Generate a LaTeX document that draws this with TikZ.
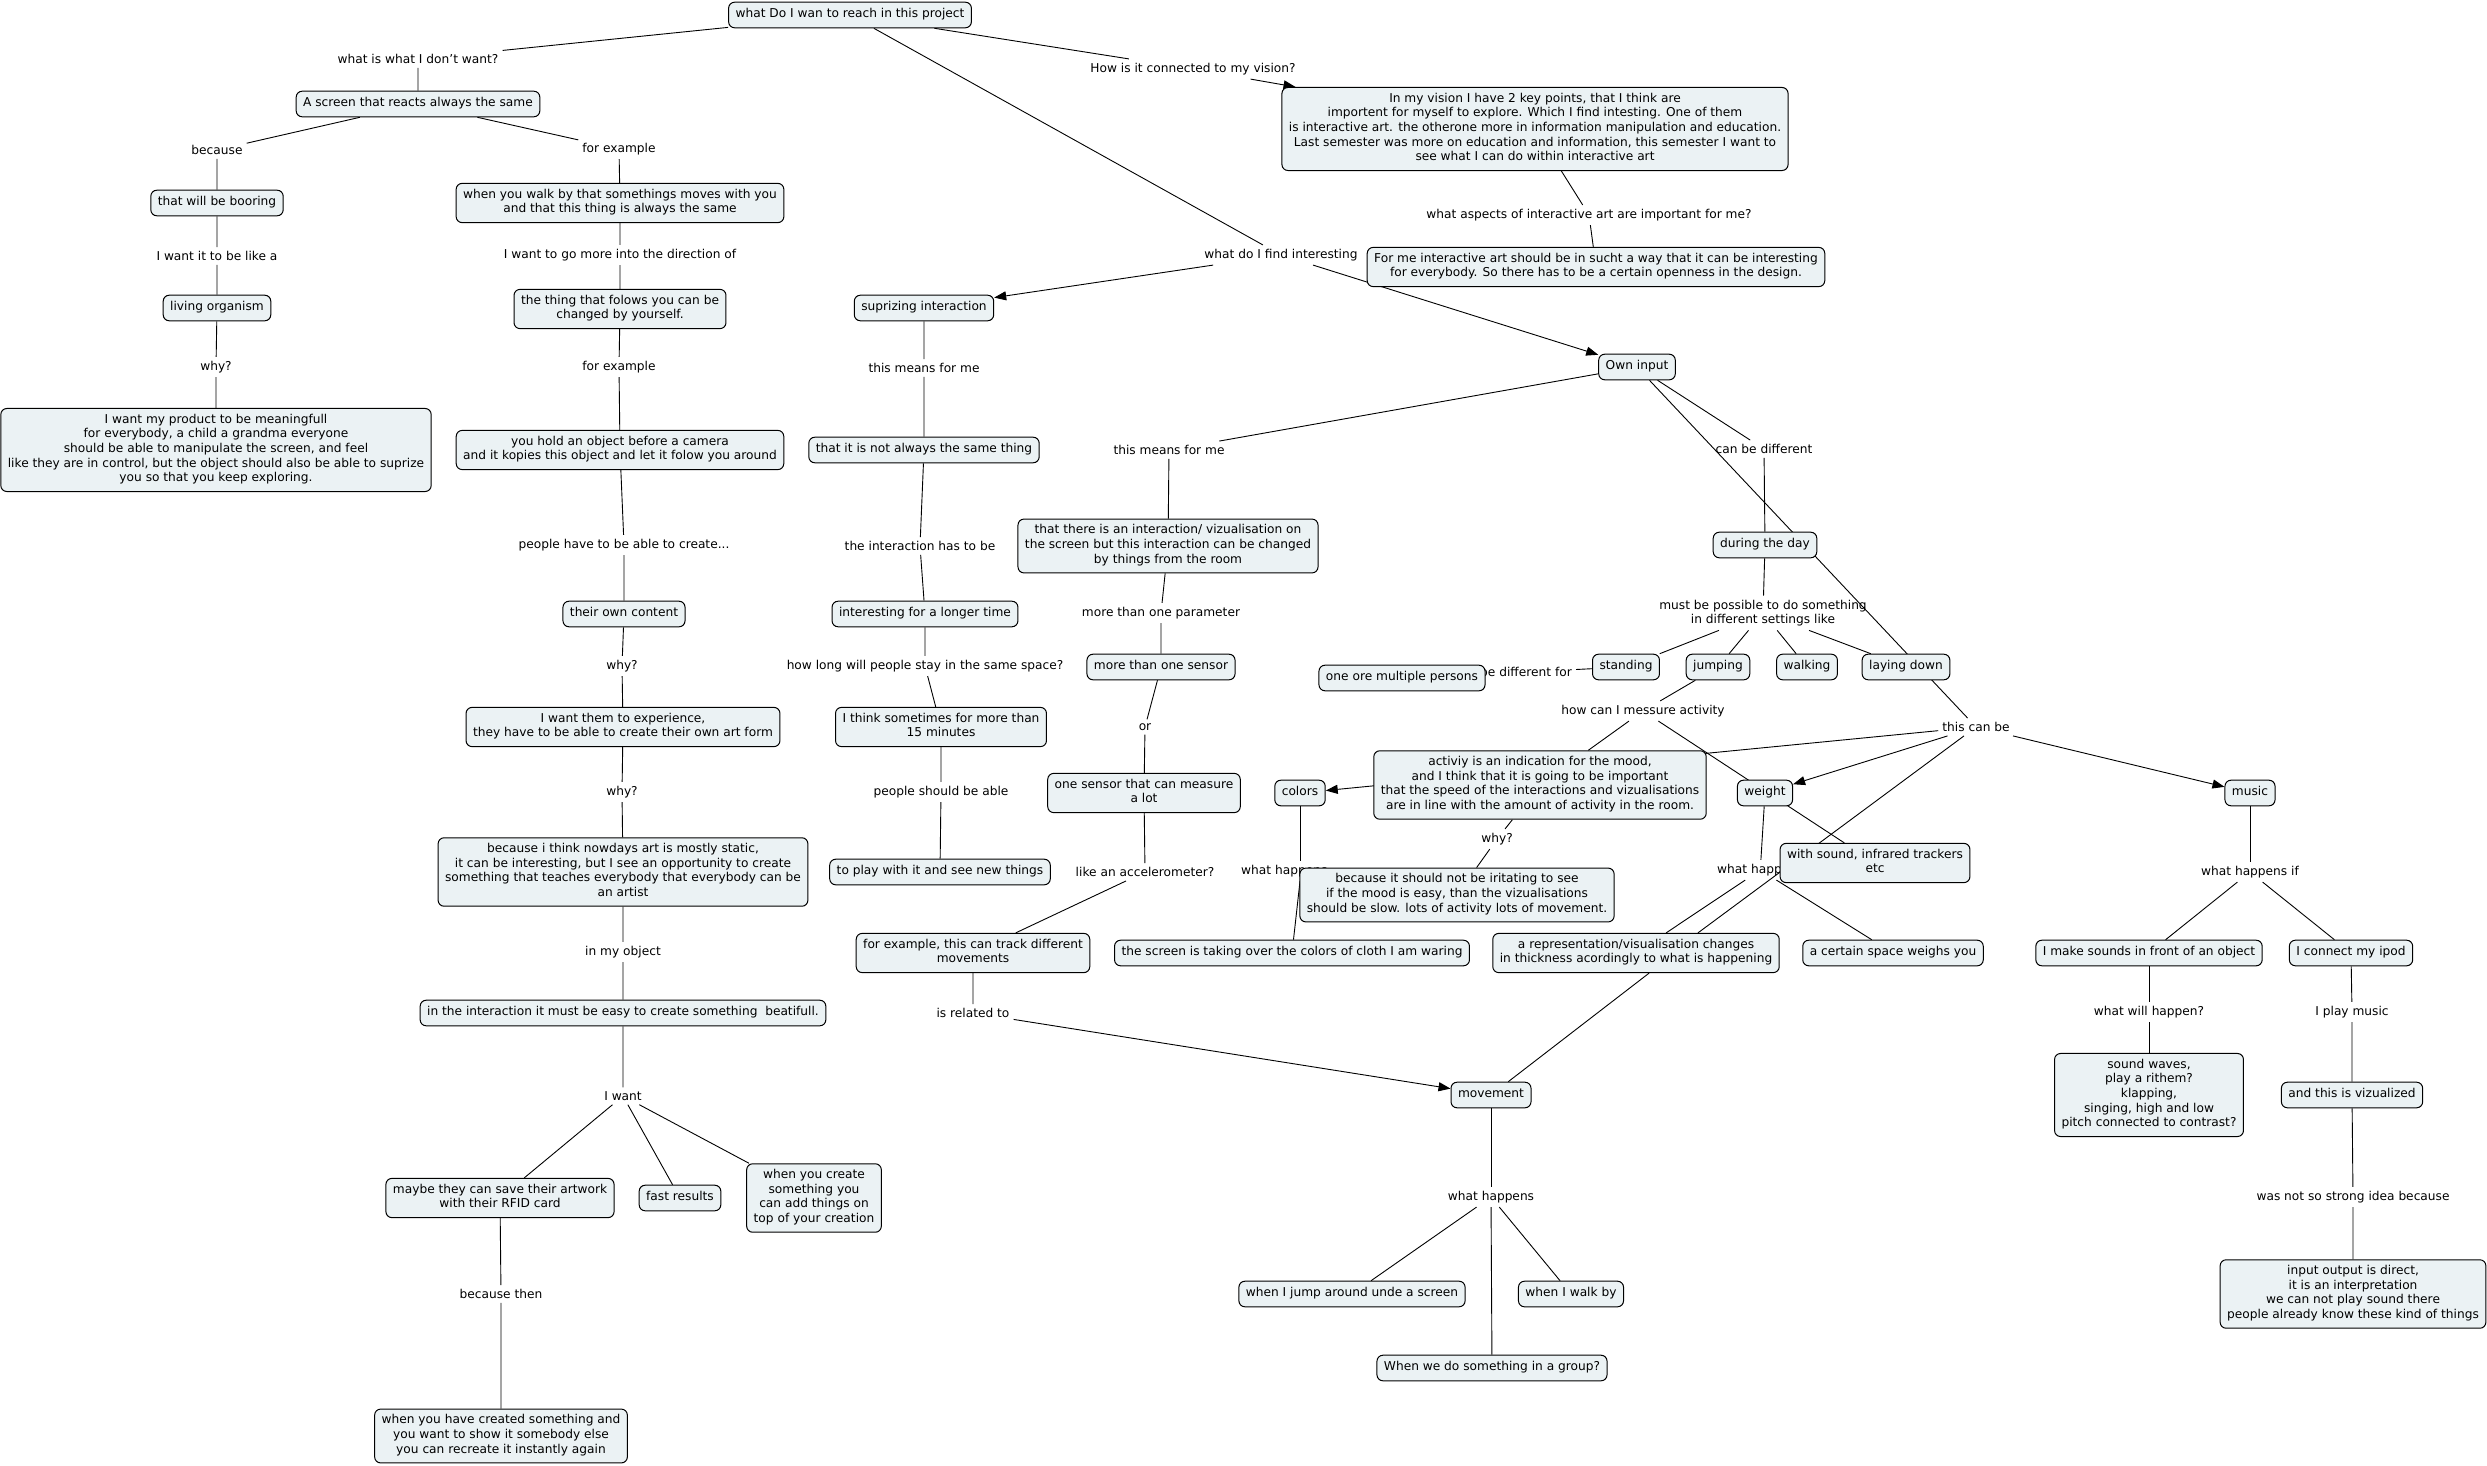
\documentclass[tikz,border=0pt]{standalone}
\usepackage{fontspec}
\setmainfont{DejaVu Sans}
\usetikzlibrary{arrows.meta,backgrounds}
\definecolor{conceptfill}{HTML}{EBF2F4}
\newcommand{\mapfont}{\fontsize{12.2}{14.6}\selectfont}
\tikzset{
  concept/.style={draw=black,line width=1pt,fill=conceptfill,rounded corners=6pt,align=center,font=\mapfont,inner xsep=7pt,inner ysep=5.5pt,execute at begin node=\strut,execute at end node=\strut},
  linktext/.style={align=center,font=\mapfont,inner sep=4pt},
  link/.style={line width=0.9pt},
  arrowlink/.style={link,-{Triangle[length=12pt,width=9pt]}}
}
\begin{document}
\begin{tikzpicture}[x=1pt,y=-1pt]
  \useasboundingbox (0,0) rectangle (2487,1466);

  \node[linktext] (dontwant) at (418,59) {what is what I don't want?};
  \node[linktext] (because) at (217,150) {because};
  \node[linktext] (forex1) at (619,149) {for example};
  \node[linktext] (likea) at (217,256) {I want it to be like a};
  \node[linktext] (why1) at (216,367) {why?};
  \node[linktext] (direction) at (620,255) {I want to go more into the direction of};
  \node[linktext] (forex2) at (619,367) {for example};
  \node[linktext] (create) at (624,545) {people have to be able to create...};
  \node[linktext] (why2) at (622,666) {why?};
  \node[linktext] (why3) at (622,792) {why?};
  \node[linktext] (inobject) at (623,952) {in my object};
  \node[linktext] (iwant) at (623,1096) {I want};
  \node[linktext] (becausethen) at (501,1294) {because then};
  \node[linktext] (connected) at (1193,69) {How is it connected to my vision?};
  \node[linktext] (aspects) at (1589,215) {what aspects of interactive art are important for me?};
  \node[linktext] (findinteresting) at (1281,255) {what do I find interesting};
  \node[linktext] (means1) at (924,368) {this means for me};
  \node[linktext] (hastobe) at (920,546) {the interaction has to be};
  \node[linktext] (howlong) at (925,666) {how long will people stay in the same space?};
  \node[linktext] (able) at (941,792) {people should be able};
  \node[linktext] (means2) at (1169,450) {this means for me};
  \node[linktext] (parameter) at (1161,613) {more than one parameter};
  \node[linktext] (or) at (1145,727) {or};
  \node[linktext] (accel) at (1145,872) {like an accelerometer?};
  \node[linktext] (related) at (973,1013) {is related to};
  \node[linktext] (happens) at (1491,1197) {what happens};
  \node[linktext] (canbediff) at (1764,449) {can be different};
  \node[linktext] (settings) at (1763,613) {must be possible to do something\\in different settings like};
  \node[linktext,anchor=east] (differentfor) at (1576,672) {be different for};
  \node[linktext] (measure) at (1643,711) {how can I messure activity};
  \node[linktext] (why4) at (1497,839) {why?};
  \node[linktext,anchor=west] (colorshappen) at (1237,871) {what happens};
  \node[linktext,anchor=west] (weighthappen) at (1713,870) {what happens};
  \node[linktext] (thiscanbe) at (1976,727) {this can be};
  \node[linktext] (happensif) at (2250,872) {what happens if};
  \node[linktext] (willhappen) at (2149,1012) {what will happen?};
  \node[linktext] (playmusic) at (2352,1012) {I play music};
  \node[linktext] (notstrong) at (2353,1197) {was not so strong idea because};

  \node[concept] (root) at (850,15) {what Do I wan to reach in this project};
  \node[concept] (screen) at (418,104) {A screen that reacts always the same};
  \node[concept] (booring) at (217,203) {that will be booring};
  \node[concept] (organism) at (217,308) {living organism};
  \node[concept] (meaningful) at (216,450) {I want my product to be meaningfull\\for everybody, a child a grandma everyone\\should be able to manipulate the screen, and feel\\like they are in control, but the object should also be able to suprize\\you so that you keep exploring.};
  \node[concept] (walkby) at (620,203) {when you walk by that somethings moves with you\\and that this thing is always the same};
  \node[concept] (follows) at (620,309) {the thing that folows you can be\\changed by yourself.};
  \node[concept] (camera) at (620,450) {you hold an object before a camera\\and it kopies this object and let it folow you around};
  \node[concept] (owncontent) at (624,614) {their own content};
  \node[concept] (experience) at (623,727) {I want them to experience,\\they have to be able to create their own art form};
  \node[concept] (static) at (623,872) {because i think nowdays art is mostly static,\\it can be interesting, but I see an opportunity to create\\something that teaches everybody that everybody can be\\an artist};
  \node[concept] (beautiful) at (623,1013) {in the interaction it must be easy to create something\ \ beatifull.};
  \node[concept] (rfid) at (500,1198) {maybe they can save their artwork\\with their RFID card};
  \node[concept] (fast) at (680,1198) {fast results};
  \node[concept] (ontop) at (814,1198) {when you create\\something you\\can add things on\\top of your creation};
  \node[concept] (recreate) at (501,1436) {when you have created something and\\you want to show it somebody else\\you can recreate it instantly again};
  \node[concept] (vision) at (1535,129) {In my vision I have 2 key points, that I think are\\importent for myself to explore. Which I find intesting. One of them\\is interactive art. the otherone more in information manipulation and education.\\Last semester was more on education and information, this semester I want to\\see what I can do within interactive art};
  \node[concept] (openness) at (1596,267) {For me interactive art should be in sucht a way that it can be interesting\\for everybody. So there has to be a certain openness in the design.};
  \node[concept] (surprise) at (924,308) {suprizing interaction};
  \node[concept] (notsame) at (924,450) {that it is not always the same thing};
  \node[concept] (longer) at (925,614) {interesting for a longer time};
  \node[concept] (minutes) at (941,727) {I think sometimes for more than\\15 minutes};
  \node[concept] (play) at (940,872) {to play with it and see new things};
  \node[concept] (owninput) at (1637,367) {Own input};
  \node[concept] (room) at (1168,546) {that there is an interaction/ vizualisation on\\the screen but this interaction can be changed\\by things from the room};
  \node[concept] (sensors) at (1161,667) {more than one sensor};
  \node[concept] (onesensor) at (1144,793) {one sensor that can measure\\a lot};
  \node[concept] (track) at (973,953) {for example, this can track different\\movements};
  \node[concept] (movement) at (1491,1095) {movement};
  \node[concept] (jump) at (1352,1294) {when I jump around unde a screen};
  \node[concept] (walk) at (1571,1294) {when I walk by};
  \node[concept] (group) at (1492,1368) {When we do something in a group?};
  \node[concept] (day) at (1765,545) {during the day};
  \node[concept] (standing) at (1626,667) {standing};
  \node[concept] (jumping) at (1718,667) {jumping};
  \node[concept] (walking) at (1807,667) {walking};
  \node[concept] (laying) at (1906,667) {laying down};
  \node[concept] (persons) at (1402,678) {one ore multiple persons};
  \node[concept] (activity) at (1540,785) {activiy is an indication for the mood,\\and I think that it is going to be important\\that the speed of the interactions and vizualisations\\are in line with the amount of activity in the room.};
  \node[concept] (colors) at (1300,793) {colors};
  \node[concept] (weight) at (1765,793) {weight};
  \node[concept] (trackers) at (1875,863) {with sound, infrared trackers\\etc};
  \node[concept] (irritate) at (1457,895) {because it should not be iritating to see\\if the mood is easy, than the vizualisations\\should be slow. lots of activity lots of movement.};
  \node[concept] (cloth) at (1292,953) {the screen is taking over the colors of cloth I am waring};
  \node[concept] (thickness) at (1636,953) {a representation/visualisation changes\\in thickness acordingly to what is happening};
  \node[concept] (weighs) at (1893,953) {a certain space weighs you};
  \node[concept] (music) at (2250,793) {music};
  \node[concept] (sounds) at (2149,953) {I make sounds in front of an object};
  \node[concept] (ipod) at (2351,953) {I connect my ipod};
  \node[concept] (waves) at (2149,1095) {sound waves,\\play a rithem?\\klapping,\\singing, high and low\\pitch connected to contrast?};
  \node[concept] (vizualized) at (2352,1095) {and this is vizualized};
  \node[concept] (direct) at (2353,1294) {input output is direct,\\it is an interpretation\\we can not play sound there\\people already know these kind of things};

  \begin{scope}[on background layer]
    \fill[white] (0,0) rectangle (2487,1466);
    \draw[link] (root) -- (dontwant) -- (screen);
    \draw[link] (screen) -- (because) -- (booring) -- (likea) -- (organism) -- (why1) -- (meaningful);
    \draw[link] (screen) -- (forex1) -- (walkby) -- (direction) -- (follows) -- (forex2) -- (camera) -- (create) -- (owncontent) -- (why2) -- (experience) -- (why3) -- (static) -- (inobject) -- (beautiful) -- (iwant);
    \draw[link] (iwant) -- (rfid);
    \draw[link] (iwant) -- (fast);
    \draw[link] (iwant) -- (ontop);
    \draw[link] (rfid) -- (becausethen) -- (recreate);
    \draw[link] (root) -- (connected);
    \draw[arrowlink] (connected) -- (vision);
    \draw[link] (vision) -- (aspects) -- (openness);
    \draw[link] (root) -- (findinteresting);
    \draw[arrowlink] (findinteresting) -- (surprise);
    \draw[arrowlink] (findinteresting) -- (owninput);
    \draw[link] (surprise) -- (means1) -- (notsame) -- (hastobe) -- (longer) -- (howlong) -- (minutes) -- (able) -- (play);
    \draw[link] (owninput) -- (means2) -- (room) -- (parameter) -- (sensors) -- (or) -- (onesensor) -- (accel) -- (track) -- (related);
    \draw[arrowlink] (related) -- (movement);
    \draw[link] (owninput) -- (canbediff) -- (day) -- (settings);
    \draw[link] (settings) -- (standing);
    \draw[link] (settings) -- (jumping);
    \draw[link] (settings) -- (walking);
    \draw[link] (settings) -- (laying);
    \draw[link] (differentfor) -- (standing);
    \draw[link] (jumping) -- (measure) -- (activity);
    \draw[link] (measure) -- (trackers);
    \draw[link] (owninput) -- (thiscanbe);
    \draw[arrowlink] (thiscanbe) -- (colors);
    \draw[arrowlink] (thiscanbe) -- (weight);
    \draw[arrowlink] (thiscanbe) -- (music);
    \draw[link] (thiscanbe) -- (thickness.18);
    \draw[link] (activity) -- (why4) -- (irritate);
    \draw[link] (colors) -- (colors |- colorshappen.north);
    \draw[link] (colors |- colorshappen.south) -- (cloth);
    \draw[link] (weight) -- (weighthappen) -- (thickness);
    \draw[link] (weighthappen) -- (weighs);
    \draw[link] (thickness.-57) -- (movement);
    \draw[link] (movement) -- (happens);
    \draw[link] (happens) -- (jump);
    \draw[link] (happens) -- (walk);
    \draw[link] (happens) -- (group);
    \draw[link] (music) -- (happensif);
    \draw[link] (happensif) -- (sounds);
    \draw[link] (happensif) -- (ipod);
    \draw[link] (sounds) -- (willhappen) -- (waves);
    \draw[link] (ipod) -- (playmusic) -- (vizualized) -- (notstrong) -- (direct);
  \end{scope}
\end{tikzpicture}
\end{document}
